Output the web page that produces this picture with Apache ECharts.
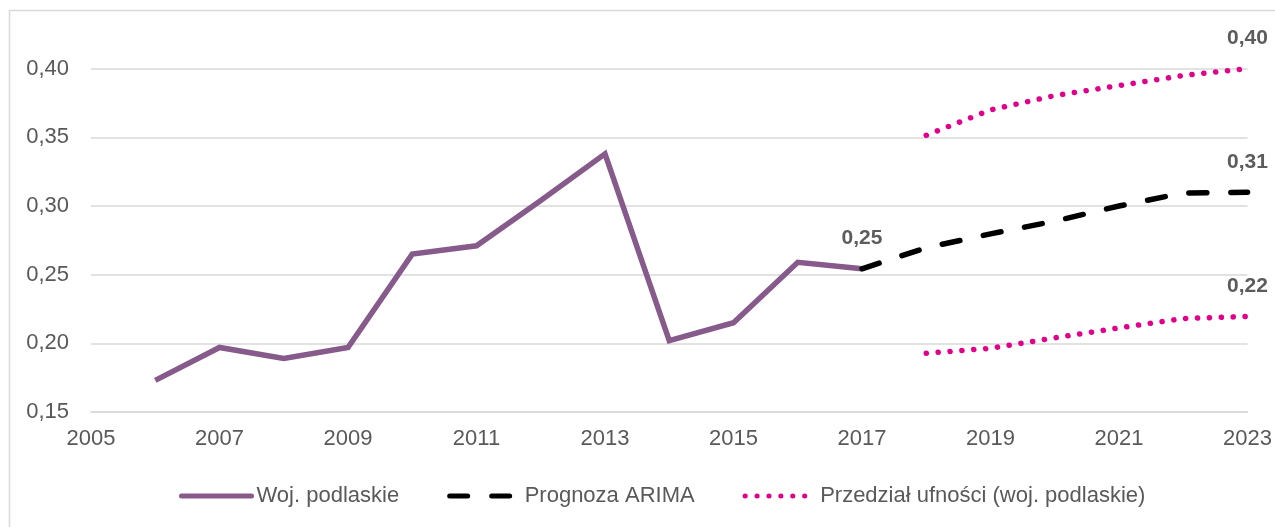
<!DOCTYPE html>
<html>
<head>
<meta charset="utf-8">
<script src="https://cdn.jsdelivr.net/npm/echarts@6/dist/echarts.min.js"></script>
<style>
html,body{margin:0;padding:0;background:#fff;}
#chart{width:1275px;height:527px;}
</style>
</head>
<body>
<div id="chart"></div>
<script>
// Data
var yearsHist = [2006, 2007, 2008, 2009, 2010, 2011, 2012, 2013, 2014, 2015, 2016, 2017];
var valuesHist = [0.173, 0.197, 0.189, 0.197, 0.265, 0.271, 0.304, 0.338, 0.202, 0.215, 0.259, 0.2543];
var yearsForecast = [2017, 2018, 2019, 2020, 2021, 2022, 2023];
var valuesForecast = [0.2543, 0.2696, 0.2797, 0.289, 0.300, 0.3095, 0.310];
var yearsInterval = [2018, 2019, 2020, 2021, 2022, 2023];
var valuesUpper = [0.3515, 0.370, 0.3804, 0.3877, 0.395, 0.400];
var valuesLower = [0.1928, 0.1964, 0.204, 0.2112, 0.2181, 0.2196];
var seriesNames = ['Woj. podlaskie', 'Prognoza ARIMA', 'Przedział ufności (woj. podlaskie)'];
// points that carry a value label (last observed value and end of forecast / interval)
var labelYears = [2017, 2023, 2023, 2023];
var labelValues = [0.2543, 0.310, 0.400, 0.2196];

function pairs(xs, ys) { return xs.map(function (x, i) { return [x, ys[i]]; }); }
function fmt(v) { return v.toFixed(2).replace('.', ','); }

var FONT = '"Liberation Sans", Arial, sans-serif';
var FS = 22;
var PURPLE = '#875a8c', PINK = '#e0008c';

var chart = echarts.init(document.getElementById('chart'), null, { renderer: 'canvas' });
chart.setOption({
  animation: false,
  backgroundColor: '#ffffff',
  textStyle: { fontFamily: FONT },
  graphic: [{
    type: 'rect', silent: true, z: -10,
    shape: { x: 9.5, y: 10.5, width: 1400, height: 700 },
    style: { fill: 'none', stroke: '#d9d9d9', lineWidth: 1.5 }
  }],
  grid: { left: 91, right: 27, top: -2, bottom: 115, containLabel: false },
  xAxis: {
    type: 'value', min: 2005, max: 2023, interval: 2,
    axisLine: { show: true, onZero: false, lineStyle: { color: '#d9d9d9', width: 1.5 } },
    axisTick: { show: false },
    splitLine: { show: false },
    axisLabel: {
      margin: 16, color: '#595959', fontSize: FS, fontFamily: FONT,
      formatter: function (v) { return String(v); }
    }
  },
  yAxis: {
    type: 'value', min: 0.15, max: 0.45, interval: 0.05,
    axisLine: { show: false },
    axisTick: { show: false },
    splitLine: { show: true, showMaxLine: false, lineStyle: { color: '#d9d9d9', width: 1.5 } },
    axisLabel: {
      margin: 22, color: '#595959', fontSize: FS, fontFamily: FONT,
      showMaxLabel: false,
      formatter: function (v) { return fmt(v); }
    }
  },
  legend: {
    bottom: 15, left: 174, itemWidth: 70, itemHeight: 14, itemGap: 48,
    data: seriesNames,
    itemStyle: { opacity: 0 },
    lineStyle: { width: 5, cap: 'round' },
    textStyle: { color: '#595959', fontSize: FS, fontFamily: FONT }
  },
  series: [
    {
      name: seriesNames[0], type: 'line', data: pairs(yearsHist, valuesHist),
      symbol: 'none', z: 3,
      lineStyle: { color: PURPLE, width: 5.5, join: 'miter' },
      itemStyle: { color: PURPLE }
    },
    {
      name: seriesNames[1], type: 'line', data: pairs(yearsForecast, valuesForecast),
      symbol: 'none', z: 4,
      lineStyle: { color: '#000000', width: 5.5, type: [18, 24], cap: 'round' },
      itemStyle: { color: '#000000' }
    },
    {
      name: seriesNames[2], type: 'line', data: pairs(yearsInterval, valuesUpper),
      symbol: 'none', z: 2,
      lineStyle: { color: PINK, width: 5.5, type: [0.1, 11.8], cap: 'round' },
      itemStyle: { color: PINK }
    },
    {
      name: seriesNames[2], type: 'line', data: pairs(yearsInterval, valuesLower),
      symbol: 'none', z: 2,
      lineStyle: { color: PINK, width: 5.5, type: [0.1, 11.8], cap: 'round' },
      itemStyle: { color: PINK }
    },
    {
      name: 'labels', type: 'scatter', data: pairs(labelYears, labelValues),
      symbolSize: 0, z: 5, silent: true,
      itemStyle: { color: 'rgba(0,0,0,0)' },
      label: {
        show: true, position: 'top', distance: 20,
        fontFamily: FONT, fontSize: FS - 1, fontWeight: 'bold', color: '#333333',
        formatter: function (p) { return fmt(p.value[1]); }
      }
    }
  ]
});
</script>
</body>
</html>
